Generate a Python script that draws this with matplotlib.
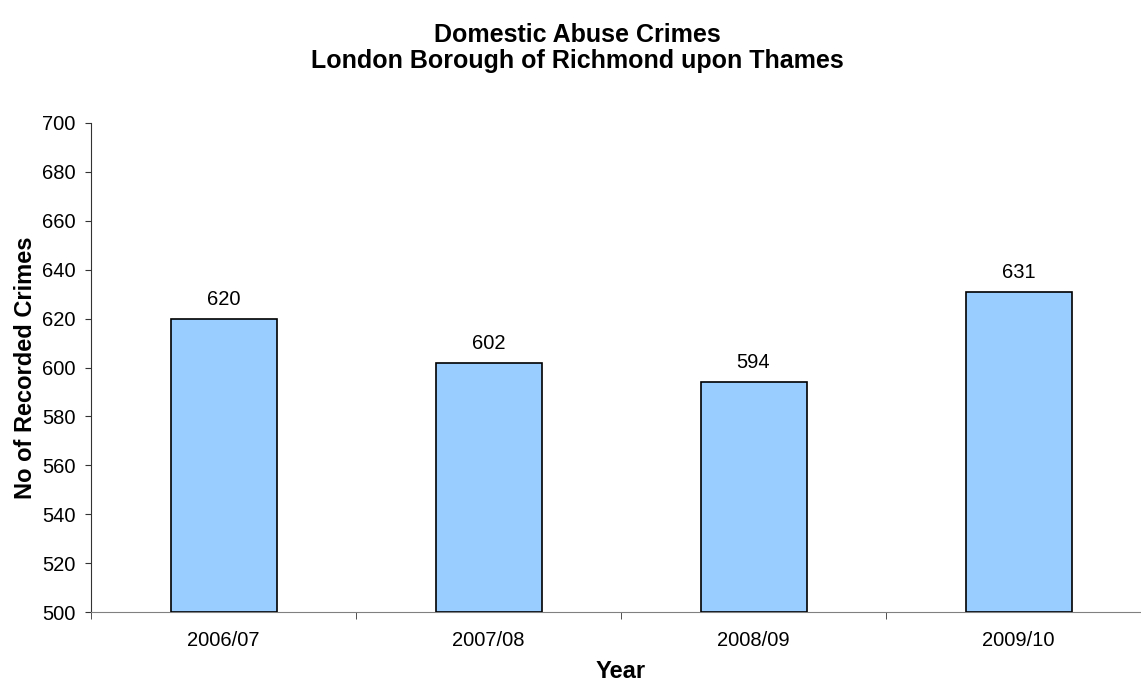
import numpy as np
import matplotlib
matplotlib.use("Agg")
import matplotlib.pyplot as plt

years = ["2006/07", "2007/08", "2008/09", "2009/10"]
crimes = [620, 602, 594, 631]

plt.rcParams['font.family'] = ['Liberation Sans', 'DejaVu Sans']

fig = plt.figure(figsize=(11.41, 6.84), dpi=100)
# axes runs slightly past the right edge of the figure
ax = fig.add_axes([91 / 1141, 1 - 612 / 684, 1060 / 1141, (612 - 123) / 684])

x = np.arange(len(years))
ax.bar(x, np.array(crimes) - 500, bottom=500, width=0.4,
       color="#99CCFF", edgecolor="black", linewidth=1.2, zorder=3)

for xi, v in zip(x, crimes):
    ax.text(xi, v + 4, str(v), ha="center", va="bottom", fontsize=14.5)

ax.set_xlim(-0.5, len(years) - 0.5)
ax.set_ylim(500, 700)
ax.set_yticks(np.arange(500, 701, 20))

ax.set_xticks(x)
ax.set_xticklabels(years)
ax.set_xticks(np.arange(-0.5, len(years)), minor=True)
ax.tick_params(axis="x", which="major", length=0, pad=14, labelsize=14.5)
ax.tick_params(axis="x", which="minor", length=5, color="#333333", direction="out")
ax.tick_params(axis="y", length=4, color="#333333", direction="out", labelsize=14.5, pad=7)

for s in ("top", "right"):
    ax.spines[s].set_visible(False)
ax.spines["left"].set_color("#333333")
ax.spines["bottom"].set_color("#808080")

ax.set_ylabel("No of Recorded Crimes", fontsize=17, fontweight="bold", labelpad=4)
ax.set_xlabel("Year", fontsize=17, fontweight="bold", labelpad=7)
fig.text(577 / 1141, 1 - 42 / 684, "Domestic Abuse Crimes",
         ha="center", va="baseline", fontsize=18, fontweight="bold")
fig.text(577 / 1141, 1 - 68 / 684, "London Borough of Richmond upon Thames",
         ha="center", va="baseline", fontsize=18, fontweight="bold")

fig.savefig("out.png", dpi=100)
